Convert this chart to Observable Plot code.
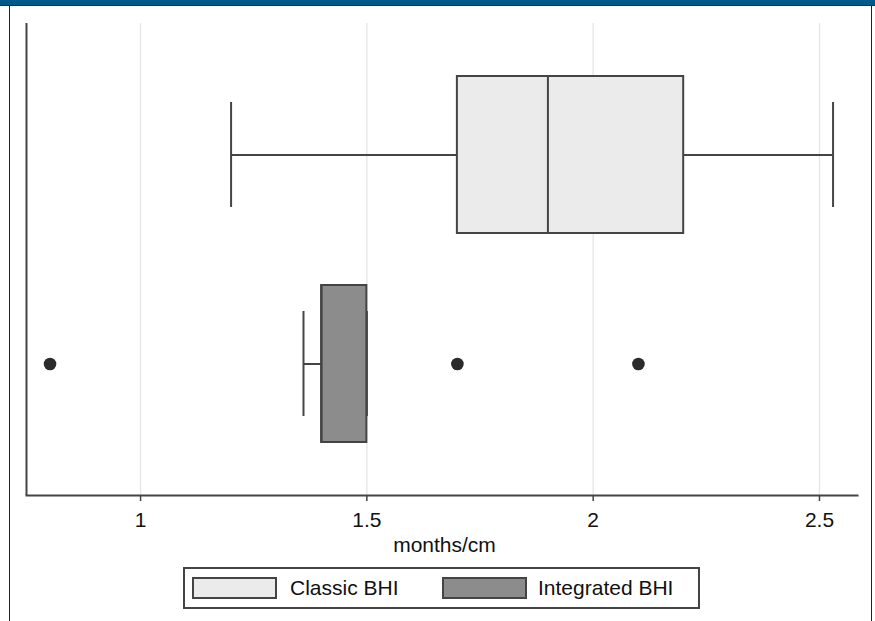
<!DOCTYPE html>
<html>
<head>
<meta charset="utf-8">
<script src="https://cdn.jsdelivr.net/npm/d3@7"></script>
<script src="https://cdn.jsdelivr.net/npm/@observablehq/plot@0.6"></script>
<style>
  html, body { margin: 0; padding: 0; background: #fff; }
  #page { position: relative; width: 875px; height: 621px; overflow: hidden; font-family: "Liberation Sans", Arial, Helvetica, sans-serif; color: #111; }
  #topbar { position: absolute; left: 0; top: 0; width: 875px; height: 5px; background: #005a87; border-bottom: 1px solid #1a2a33; }
  #frame { position: absolute; left: 9px; top: 6px; width: 861px; height: 640px; border-left: 1.5px solid #222; border-right: 1.5px solid #222; }
  #chart { position: absolute; left: 0; top: 0; }
  #xlabel { position: absolute; left: 0; width: 875px; top: 533px; text-align: center; font-size: 21px; line-height: 24px; padding-left: 14px; box-sizing: border-box; }
  #legend { position: absolute; left: 183px; top: 567px; width: 513px; height: 38px; border: 2px solid #444; background: #fff; }
  .sw { position: absolute; top: 8px; width: 81px; height: 18px; border: 2px solid #444; }
  .lt { position: absolute; top: 7px; font-size: 21px; line-height: 24px; }
</style>
</head>
<body>
<div id="page">
  <div id="topbar"></div>
  <div id="frame"></div>
  <div id="chart"></div>
  <div id="xlabel"></div>
  <div id="legend"></div>
</div>
<script>
// ---- data ----
const groups = ["Classic BHI", "Integrated BHI"];
const lowWhisker = [1.2, 1.36];
const q1 = [1.7, 1.4];
const median = [1.9, 1.4];
const q3 = [2.2, 1.5];
const highWhisker = [2.53, 1.5];
const outlierGroup = ["Integrated BHI", "Integrated BHI", "Integrated BHI"];
const outlierValue = [0.8, 1.7, 2.1];
const groupFills = ["#ebebeb", "#8c8c8c"];
const xTicks = [1, 1.5, 2, 2.5];
const xDomain = [0.748, 2.584];
const xTitle = "months/cm";

const rows = groups.map((g, i) => ({
  group: g, lo: lowWhisker[i], q1: q1[i], med: median[i], q3: q3[i], hi: highWhisker[i]
}));
const outliers = outlierValue.map((v, i) => ({ group: outlierGroup[i], value: v }));

const stroke = "#444";
const chart = Plot.plot({
  width: 875,
  height: 560,
  marginLeft: 26,
  marginRight: 18,
  marginTop: 23,
  marginBottom: 65,
  style: { fontFamily: "'Liberation Sans', Arial, Helvetica, sans-serif", fontSize: "21px", color: "#111", background: "transparent" },
  x: { domain: xDomain, axis: null },
  y: { domain: groups, padding: 0.25, axis: null },
  color: { domain: groups, range: groupFills },
  marks: [
    Plot.gridX(xTicks, { stroke: "#e4e4e4", strokeOpacity: 1, strokeWidth: 1.3 }),
    Plot.ruleY(rows, { y: "group", x1: "lo", x2: "q1", stroke, strokeWidth: 2 }),
    Plot.ruleY(rows, { y: "group", x1: "q3", x2: "hi", stroke, strokeWidth: 2 }),
    Plot.tickX(rows, { y: "group", x: "lo", stroke, strokeWidth: 2, insetTop: 26, insetBottom: 26 }),
    Plot.tickX(rows, { y: "group", x: "hi", stroke, strokeWidth: 2, insetTop: 26, insetBottom: 26 }),
    Plot.barX(rows, { y: "group", x1: "q1", x2: "q3", fill: "group", stroke, strokeWidth: 2 }),
    Plot.tickX(rows, { y: "group", x: "med", stroke, strokeWidth: 2 }),
    Plot.dot(outliers, { y: "group", x: "value", r: 6.3, fill: "#2b2b2b", stroke: "none" }),
    Plot.ruleX([xDomain[0]], { stroke, strokeWidth: 2 }),
    Plot.axisX({ ticks: xTicks, tickFormat: d => String(d), tickSize: 6, tickPadding: 11, stroke, strokeWidth: 1.5, label: null }),
    Plot.frame({ anchor: "bottom", stroke, strokeWidth: 2 })
  ]
});
document.getElementById("chart").appendChild(chart);
document.getElementById("xlabel").textContent = xTitle;

// legend
const legend = document.getElementById("legend");
const swLeft = [7, 257];
const txtLeft = [105, 353];
groups.forEach((g, i) => {
  const sw = document.createElement("div");
  sw.className = "sw";
  sw.style.left = swLeft[i] + "px";
  sw.style.background = groupFills[i];
  legend.appendChild(sw);
  const t = document.createElement("div");
  t.className = "lt";
  t.style.left = txtLeft[i] + "px";
  t.textContent = g;
  legend.appendChild(t);
});
</script>
</body>
</html>
